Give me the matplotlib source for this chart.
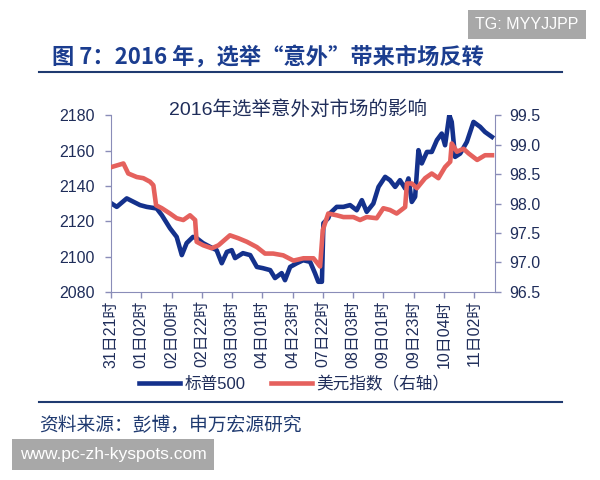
import matplotlib
matplotlib.use("Agg")
import matplotlib.pyplot as plt
import numpy as np

plt.rcParams['font.family'] = ['Liberation Sans', 'Noto Sans CJK SC', 'DejaVu Sans']

# x ticks (hour labels, one per tick position)
tick_labels = ['31日21时', '01日02时', '02日00时', '02日22时', '03日03时', '04日01时',
               '04日23时', '07日22时', '08日03时', '09日01时', '09日23时', '10日04时', '11日02时']

# S&P 500 (left axis), position in tick units
spx_t = [0.02, 0.19, 0.52, 0.96, 1.18, 1.51, 1.68, 1.95, 2.17, 2.34, 2.50, 2.71, 2.83, 3.04,
         3.27, 3.49, 3.66, 3.83, 3.99, 4.10, 4.36, 4.60, 4.82, 5.02, 5.26, 5.42, 5.64, 5.75,
         5.92, 6.14, 6.35, 6.58, 6.74, 6.85, 6.97, 7.02, 7.18, 7.24, 7.46, 7.68, 7.90, 8.12,
         8.29, 8.45, 8.67, 8.84, 9.06, 9.22, 9.39, 9.55, 9.72, 9.83, 9.94, 10.05, 10.16, 10.27,
         10.44, 10.60, 10.77, 10.93, 11.04, 11.18, 11.26, 11.37, 11.54, 11.76, 11.98, 12.20,
         12.36, 12.59]
spx = [2130.0, 2128.1, 2132.9, 2129.1, 2128.1, 2127.2, 2123.4, 2116.0, 2111.1, 2100.8, 2107.6,
       2111.1, 2110.4, 2107.6, 2105.5, 2103.6, 2096.2, 2102.6, 2103.6, 2099.1, 2101.9, 2100.8,
       2094.1, 2093.4, 2092.3, 2087.8, 2090.6, 2086.6, 2094.1, 2096.2, 2097.9, 2097.0, 2090.6,
       2085.7, 2085.7, 2118.9, 2121.7, 2124.5, 2128.1, 2128.1, 2129.1, 2126.2, 2131.9, 2125.3,
       2130.0, 2139.4, 2145.1, 2143.2, 2139.4, 2143.2, 2138.5, 2144.2, 2130.9, 2133.8, 2160.2,
       2152.7, 2159.2, 2159.2, 2165.9, 2169.6, 2163.0, 2180.0, 2176.2, 2156.4, 2158.3, 2164.9,
       2176.2, 2173.4, 2170.5, 2167.7]

# Dollar index (right axis)
dxy_t = [0.02, 0.41, 0.57, 0.85, 1.07, 1.29, 1.40, 1.49, 1.68, 1.95, 2.17, 2.39, 2.61, 2.78,
         2.83, 3.05, 3.33, 3.55, 3.93, 4.21, 4.49, 4.82, 5.09, 5.36, 5.69, 6.03, 6.36, 6.69,
         6.91, 7.00, 7.18, 7.46, 7.68, 8.01, 8.23, 8.45, 8.78, 9.00, 9.22, 9.44, 9.72, 9.78,
         9.94, 10.11, 10.38, 10.60, 10.82, 11.04, 11.21, 11.26, 11.43, 11.65, 11.82, 12.10,
         12.36, 12.59]
dxy = [98.62, 98.68, 98.51, 98.45, 98.43, 98.37, 98.31, 97.97, 97.92, 97.83, 97.75, 97.72,
       97.80, 97.72, 97.35, 97.29, 97.24, 97.29, 97.46, 97.41, 97.35, 97.26, 97.15, 97.15,
       97.12, 97.03, 97.07, 97.07, 96.93, 97.55, 97.83, 97.80, 97.77, 97.77, 97.72, 97.77,
       97.75, 97.92, 97.89, 97.83, 97.94, 98.34, 98.34, 98.26, 98.43, 98.51, 98.43, 98.62,
       98.71, 99.02, 98.88, 98.93, 98.85, 98.74, 98.82, 98.82]

navy = '#1f2d5a'
blue = '#14318c'
red = '#e5615d'
axcol = '#8a8db8'
cjk = ['Noto Sans CJK SC', 'DejaVu Sans']

fig = plt.figure(figsize=(6, 4.8), dpi=100)

# header
fig.text(0.087, 0.881, '图 7：2016 年，选举“意外”带来市场反转', fontsize=16, fontweight='bold',
         color='#1b3d8f', family=cjk, va='center')
fig.add_artist(plt.Line2D([0.065, 0.937], [0.851, 0.851], color='#1f3a70', lw=1.5))
fig.add_artist(plt.Line2D([0.065, 0.937], [0.162, 0.162], color='#1f3a70', lw=1.5))
fig.text(0.066, 0.114, '资料来源：彭博，申万宏源研究', fontsize=13.5, color='#1f3a70',
         family=cjk, va='center')

# watermarks
fig.text(0.792, 0.949, 'TG: MYYJJPP', fontsize=11.5, color='white', va='center', ha='left',
         bbox=dict(boxstyle='square,pad=0.45', fc='#a8a8a8', ec='none'))
fig.text(0.033, 0.053, 'www.pc-zh-kyspots.com', fontsize=12.5, color='white', va='center',
         bbox=dict(boxstyle='square,pad=0.45', fc='#a8a8a8', ec='none'))

ax = fig.add_axes([0.185, 0.392, 0.64, 0.368])
ax2 = ax.twinx()

l1, = ax.plot(spx_t, spx, color=blue, lw=3.3, solid_joinstyle='round', zorder=2)
l2, = ax2.plot(dxy_t, dxy, color=red, lw=3.3, solid_joinstyle='round', zorder=3)

ax.set_xlim(0, 12.69)
ax.set_ylim(2080, 2180)
ax2.set_ylim(96.5, 99.5)
ax.set_yticks(np.arange(2080, 2181, 20))
ax2.set_yticks(np.arange(96.5, 99.51, 0.5))
ax2.set_yticklabels(['%.1f' % v for v in np.arange(96.5, 99.51, 0.5)])
ax.set_xticks(range(len(tick_labels)))
ax.set_xticklabels(tick_labels, rotation=90, family=['Liberation Sans', 'Noto Sans CJK SC'])

for a in (ax, ax2):
    for s in a.spines.values():
        s.set_visible(False)
    a.tick_params(colors=axcol, labelcolor=navy, labelsize=11.5, length=4, width=1)
ax.spines['left'].set_visible(True)
ax.spines['bottom'].set_visible(True)
ax2.spines['right'].set_visible(True)
for k in ('left', 'bottom'):
    ax.spines[k].set_color(axcol)
ax2.spines['right'].set_color(axcol)
ax.tick_params(axis='x', labelsize=11.5, pad=2)
ax.tick_params(axis='y', pad=8)
ax2.tick_params(axis='y', pad=6)

fig.text(0.4975, 0.771, '2016年选举意外对市场的影响', fontsize=14, color=navy,
         ha='center', va='center', family=['Liberation Sans', 'Noto Sans CJK SC'])

fig.legend([l1, l2], ['标普500', '美元指数（右轴）'], loc='center', bbox_to_anchor=(0.49, 0.2),
           ncol=2, frameon=False, fontsize=12, handlelength=2.5, columnspacing=1.5,
           labelcolor=navy, handletextpad=0.25)

fig.savefig('out.png', dpi=100)
